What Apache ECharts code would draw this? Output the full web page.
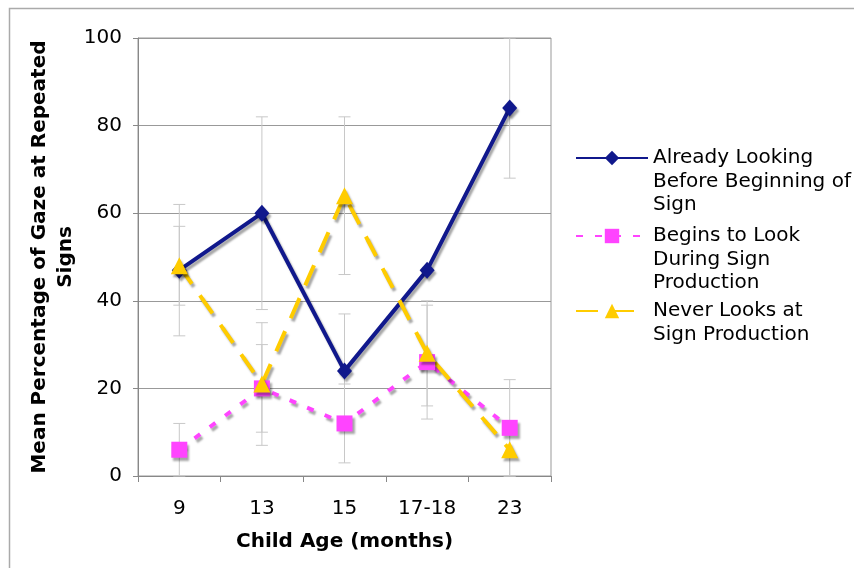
<!DOCTYPE html>
<html>
<head>
<meta charset="utf-8">
<script src="https://cdn.jsdelivr.net/npm/echarts@6/dist/echarts.min.js"></script>
<style>
html,body{margin:0;padding:0;background:#fff;}
#chart{width:854px;height:568px;}
</style>
</head>
<body>
<div id="chart"></div>
<script>
// ---- data ----
var categories = ['9', '13', '15', '17-18', '23'];
var seriesNames = ['Already Looking Before Beginning of Sign', 'Begins to Look During Sign Production', 'Never Looks at Sign Production'];
var legendLines = [['Already Looking', 'Before Beginning of', 'Sign'], ['Begins to Look', 'During Sign', 'Production'], ['Never Looks at', 'Sign Production']];
var alreadyLooking = [47, 60, 24, 47, 84];
var beginsToLook = [6, 20, 12, 26, 11];
var neverLooks = [48, 21, 64, 28, 6];
// error bar ranges (low / high)
var alreadyLow = [32, 38, 11, null, 68];
var alreadyHigh = [62, 82, 37, null, 100];
var beginsLow = [0, 10, 3, 13, 0];
var beginsHigh = [12, 30, 21, 39, 22];
var neverLow = [39, 7, 46, 16, 0];
var neverHigh = [57, 35, 82, 40, 12];
var yTicks = [0, 20, 40, 60, 80, 100];

var FONT = 'DejaVu Sans';
var LH = 23.5;
var errData = [];
[[alreadyLow, alreadyHigh], [beginsLow, beginsHigh], [neverLow, neverHigh]].forEach(function (p) {
  for (var i = 0; i < categories.length; i++) {
    if (p[0][i] != null) errData.push([i, p[0][i], p[1][i]]);
  }
});

var shadow = {shadowColor: 'rgba(0,0,0,0.35)', shadowOffsetX: 2, shadowOffsetY: 3, shadowBlur: 2};
function lineSeries(name, data, color, width, type, symbol, size) {
  return {
    name: name, type: 'line', data: data, z: 3,
    symbol: symbol, symbolSize: size,
    lineStyle: Object.assign({color: color, width: width, type: type}, shadow),
    itemStyle: Object.assign({color: color}, shadow),
    emphasis: {disabled: true}
  };
}

// legend text block is centred on the icon; pad with blank lines above so the
// icon lines up with the first text line
function mkLegend(idx, firstLineY) {
  var lines = legendLines[idx];
  var blanks = lines.length - 1;
  var label = new Array(blanks + 1).join('\n') + lines.join('\n');
  return {
    data: [seriesNames[idx]], orient: 'vertical', left: 575,
    top: firstLineY - blanks * LH - LH / 2, padding: 0,
    itemWidth: 72, itemHeight: 18, itemGap: 0,
    formatter: function () { return label; },
    textStyle: {fontFamily: FONT, fontSize: 20, color: '#000', lineHeight: LH},
    lineStyle: {shadowColor: 'rgba(0,0,0,0)', shadowBlur: 0, shadowOffsetX: 0, shadowOffsetY: 0},
    itemStyle: {shadowColor: 'rgba(0,0,0,0)', shadowBlur: 0, shadowOffsetX: 0, shadowOffsetY: 0},
    selectedMode: false
  };
}

var chart = echarts.init(document.getElementById('chart'), null, {renderer: 'canvas'});
chart.setOption({
  animation: false,
  backgroundColor: '#fff',
  graphic: [{
    type: 'rect', left: 7, top: 6, shape: {width: 1000, height: 700},
    style: {fill: 'none', stroke: '#aaa', lineWidth: 1.5}, z: -10
  }],
  grid: {left: 138, right: 303, top: 38, bottom: 92, show: true, borderColor: '#999', borderWidth: 1},
  legend: [mkLegend(0, 158), mkLegend(1, 236), mkLegend(2, 311)],
  xAxis: {
    type: 'category', data: categories, boundaryGap: true,
    name: 'Child Age (months)', nameLocation: 'middle', nameGap: 56,
    nameTextStyle: {fontFamily: FONT, fontSize: 20, fontWeight: 'bold', color: '#000'},
    axisLine: {lineStyle: {color: '#888', width: 1}},
    axisTick: {show: true, length: 6, alignWithLabel: false, lineStyle: {color: '#888'}},
    axisLabel: {fontFamily: FONT, fontSize: 20, color: '#000', margin: 23}
  },
  yAxis: {
    type: 'value', min: 0, max: 100, interval: 20,
    name: 'Mean Percentage of Gaze at Repeated\nSigns', nameLocation: 'middle', nameGap: 59,
    nameTextStyle: {fontFamily: FONT, fontSize: 20, fontWeight: 'bold', color: '#000', lineHeight: 26, align: 'center'},
    axisLine: {show: true, lineStyle: {color: '#888', width: 1}},
    axisTick: {show: true, length: 5, lineStyle: {color: '#888'}},
    axisLabel: {fontFamily: FONT, fontSize: 20, color: '#000', margin: 16,
      formatter: function (v) { return yTicks.indexOf(v) >= 0 ? String(v) : ''; }},
    splitLine: {show: true, lineStyle: {color: '#999', width: 1}}
  },
  series: [
    {
      type: 'custom', z: 1, silent: true, data: errData,
      renderItem: function (params, api) {
        var lo = api.coord([api.value(0), api.value(1)]);
        var hi = api.coord([api.value(0), api.value(2)]);
        var hw = 6;
        var st = {stroke: '#c8c8c8', lineWidth: 1};
        return {type: 'group', children: [
          {type: 'line', shape: {x1: lo[0], y1: lo[1], x2: hi[0], y2: hi[1]}, style: st},
          {type: 'line', shape: {x1: lo[0] - hw, y1: lo[1], x2: lo[0] + hw, y2: lo[1]}, style: st},
          {type: 'line', shape: {x1: hi[0] - hw, y1: hi[1], x2: hi[0] + hw, y2: hi[1]}, style: st}
        ]};
      }
    },
    lineSeries(seriesNames[0], alreadyLooking, '#10188c', 4, 'solid', 'diamond', [15, 17]),
    lineSeries(seriesNames[1], beginsToLook, '#ff44ff', 4, [7, 12], 'rect', 16),
    lineSeries(seriesNames[2], neverLooks, '#ffcc00', 4, [22, 14], 'triangle', 17)
  ]
});
</script>
</body>
</html>
